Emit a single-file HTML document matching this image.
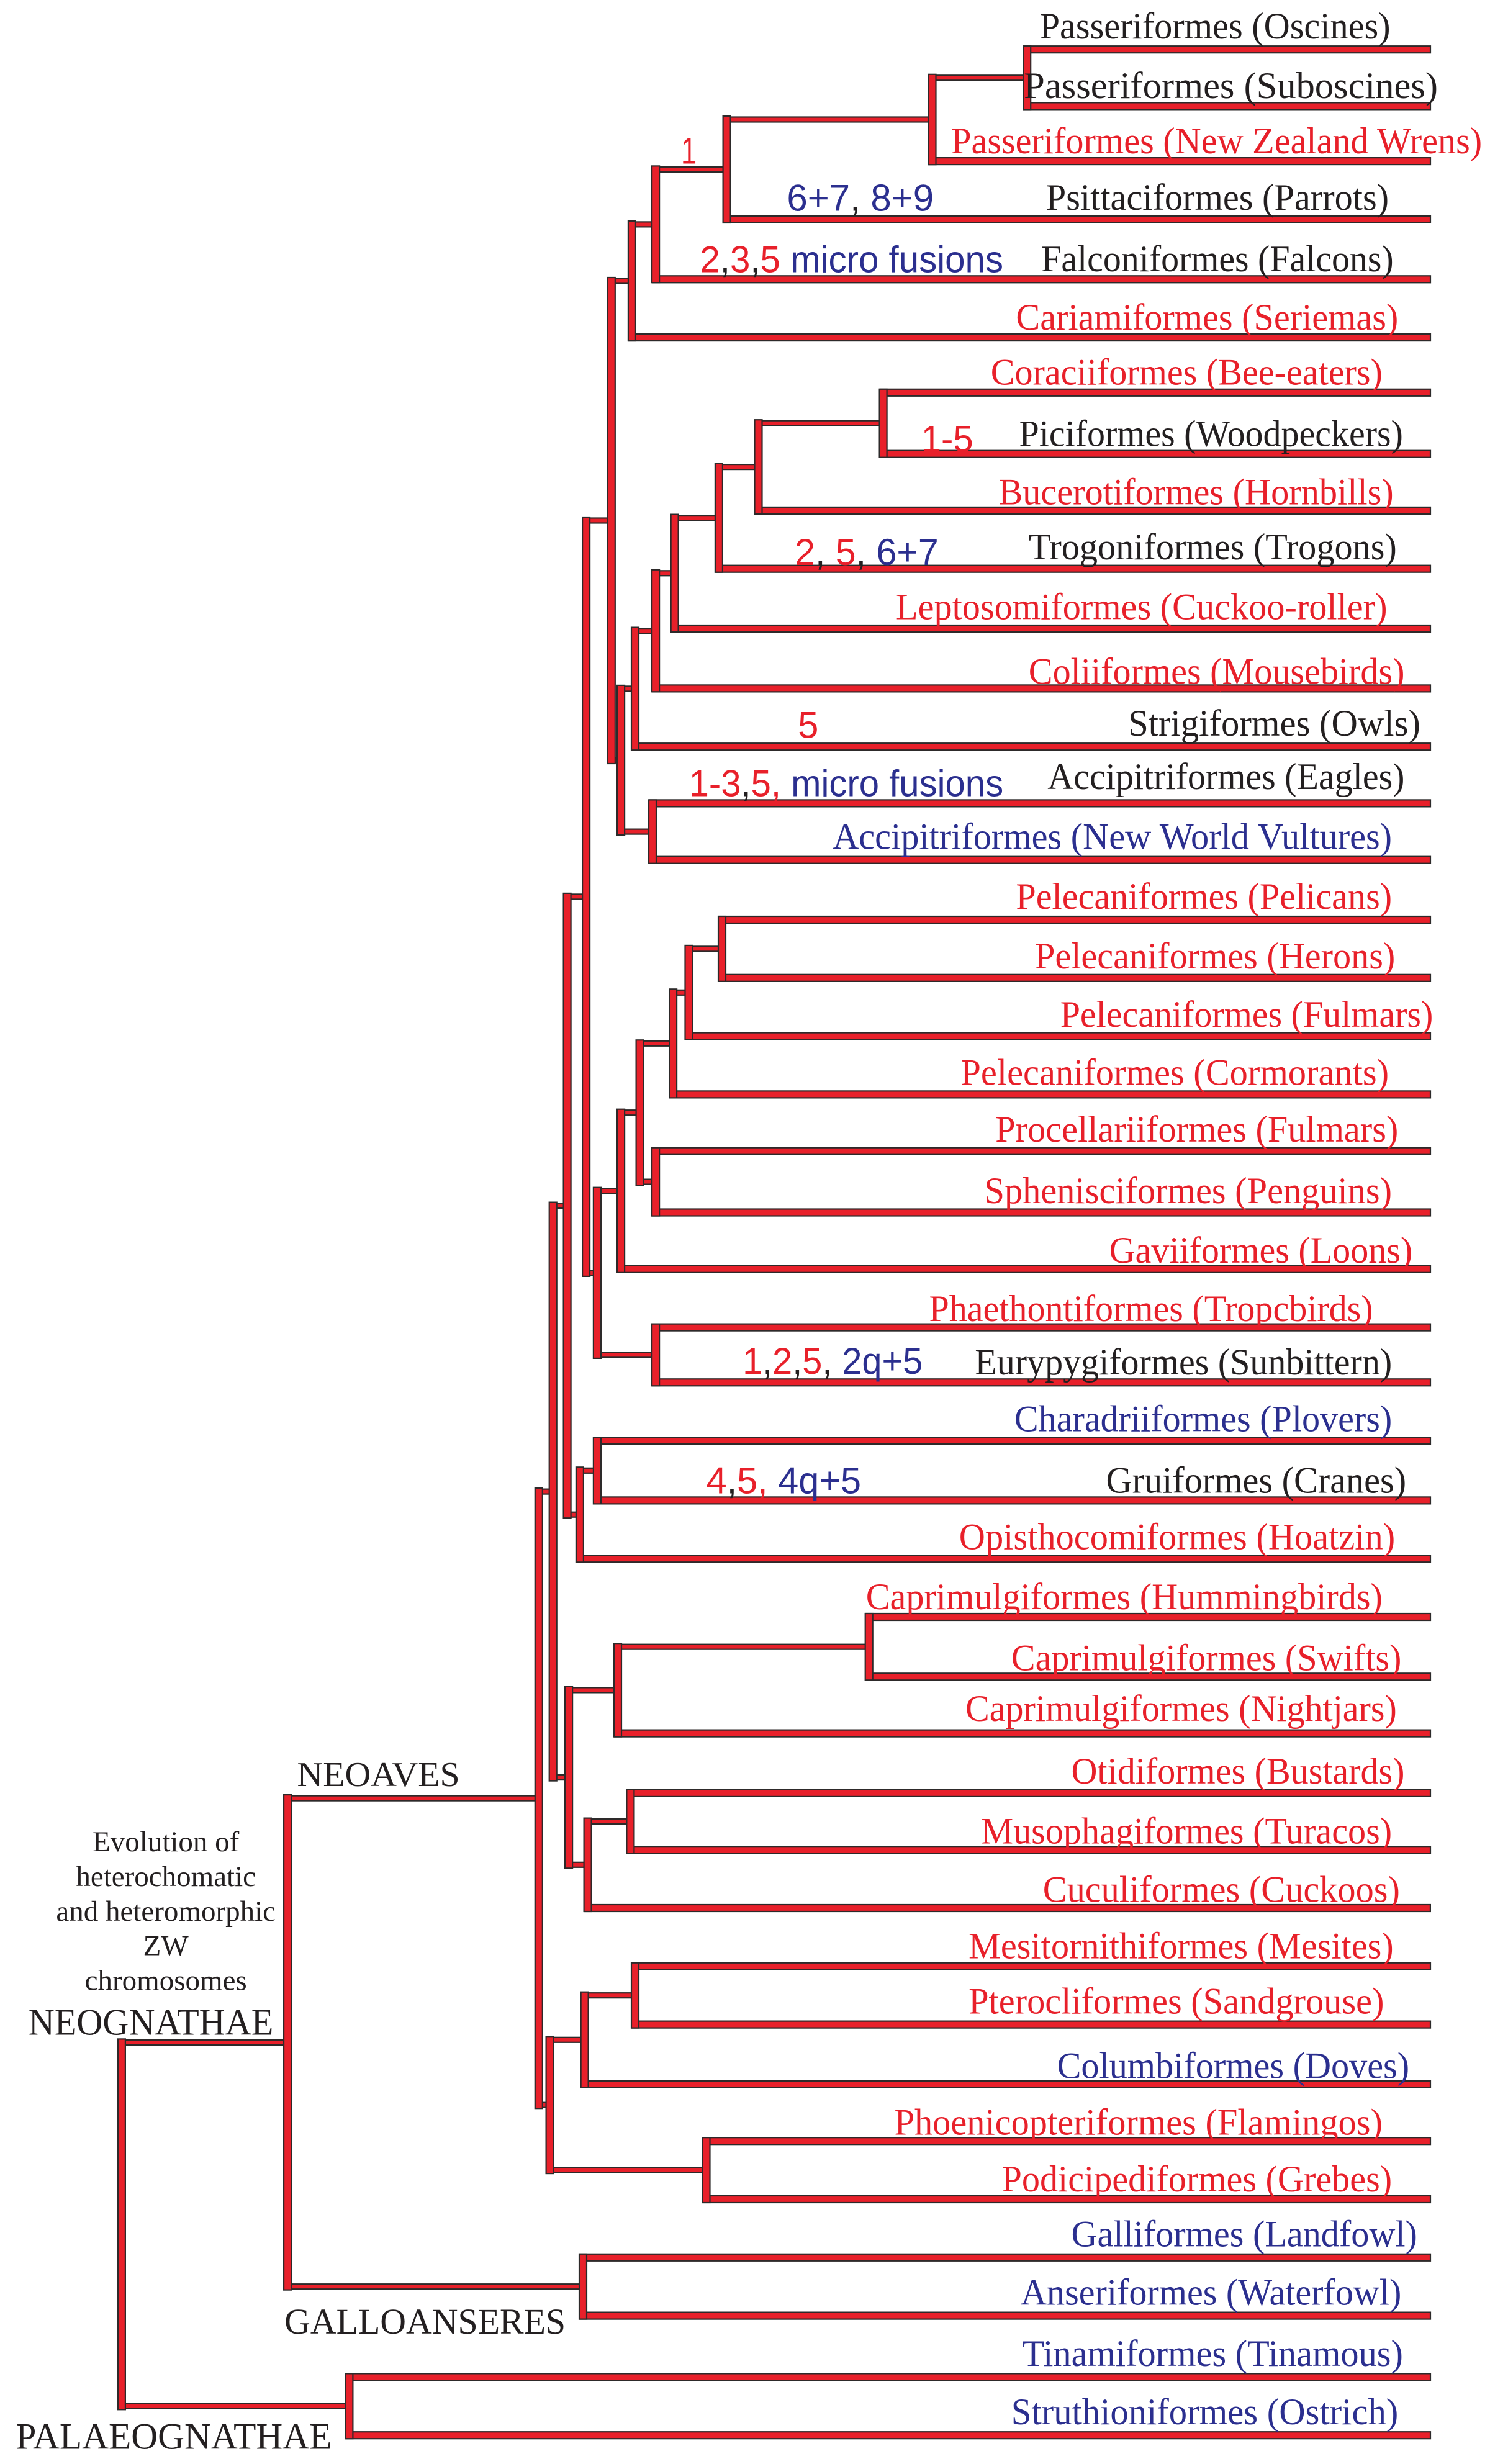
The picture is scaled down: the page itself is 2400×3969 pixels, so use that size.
<!DOCTYPE html>
<html><head><meta charset="utf-8"><style>
html,body{margin:0;padding:0;background:#fff}
svg{display:block}
</style></head><body>
<svg id="chart" xmlns="http://www.w3.org/2000/svg" width="2400" height="3969" viewBox="0 0 2400 3969">
<rect width="2400" height="3969" fill="#ffffff"/>
<g id="branches"></g>
<g id="labels"></g>
<g id="notes"></g>
</svg>
<script>
const S = 2.545;
const SY = 2.535, OY = -4;
const RED = "#e8202a", BLUE = "#2b2f8f", BLACK = "#231f20";
const leafNames = ["Passeriformes (Oscines)","Passeriformes (Suboscines)","Passeriformes (New Zealand Wrens)","Psittaciformes (Parrots)","Falconiformes (Falcons)","Cariamiformes (Seriemas)","Coraciiformes (Bee-eaters)","Piciformes (Woodpeckers)","Bucerotiformes (Hornbills)","Trogoniformes (Trogons)","Leptosomiformes (Cuckoo-roller)","Coliiformes (Mousebirds)","Strigiformes (Owls)","Accipitriformes (Eagles)","Accipitriformes (New World Vultures)","Pelecaniformes (Pelicans)","Pelecaniformes (Herons)","Pelecaniformes (Fulmars)","Pelecaniformes (Cormorants)","Procellariiformes (Fulmars)","Sphenisciformes (Penguins)","Gaviiformes (Loons)","Phaethontiformes (Tropcbirds)","Eurypygiformes (Sunbittern)","Charadriiformes (Plovers)","Gruiformes (Cranes)","Opisthocomiformes (Hoatzin)","Caprimulgiformes (Hummingbirds)","Caprimulgiformes (Swifts)","Caprimulgiformes (Nightjars)","Otidiformes (Bustards)","Musophagiformes (Turacos)","Cuculiformes (Cuckoos)","Mesitornithiformes (Mesites)","Pterocliformes (Sandgrouse)","Columbiformes (Doves)","Phoenicopteriformes (Flamingos)","Podicipediformes (Grebes)","Galliformes (Landfowl)","Anseriformes (Waterfowl)","Tinamiformes (Tinamous)","Struthioniformes (Ostrich)"];
const leafColor = ["k","k","r","k","k","r","r","k","r","k","r","r","k","k","b","r","r","r","r","r","r","r","r","k","b","k","r","r","r","r","r","r","r","r","r","b","r","r","b","b","b","b"];
const leafY = [33,69,104,141,179,216,251,290,326,363,401,439,476,512,548,586,623,660,697,733,772,808,845,880,917,955,992,1029,1067,1103,1141,1177,1214,1251,1288,1326,1362,1399,1436,1473,1512,1549];
const labelStart = [658,648,602,662,659,643,627,645,632,651,567,651,714,663,527,643,655,671,608,630,623,702,588,617,642,700,607,548,640,611,678,621,660,613,613,669,566,634,678,646,647,640];
const labelEnd = [880,910,938,879,882,885,875,888,882,884,878,889,899,889,881,881,883,907,879,885,881,894,869,881,881,890,883,875,887,884,889,881,886,882,876,892,875,881,897,887,888,885];
const labelY = [18,56,91,127,166,203,238,277,314,349,387,428,461,495,533,571,609,646,683,719,758,796,833,867,903,942,978,1016,1055,1087,1127,1165,1202,1238,1273,1314,1350,1386,1421,1458,1497,1534];
const tree = [75,
  [180,
    [339,
      [348,
        [357,
          [369,
            [385,
              [398,[413,[458,[588,[648,0,1],2],3],4],5],
              [391,[400,[413,[425,[453,[478,[557,6,7],8],9],10],11],12],[411,13,14]]],
            [376,[391,[403,[424,[434,[455,15,16],17],18],[413,19,20]],21],[413,22,23]]],
          [365,[376,24,25],26]],
        [358,[389,[548,27,28],29],[370,[397,30,31],32]]],
      [346,[368,[400,33,34],35],[445,36,37]]],
    [367,38,39]],
  [219,40,41]];
const LEAF_END = 2304;
const NS = "http://www.w3.org/2000/svg";
const gB = document.getElementById("branches");
const gL = document.getElementById("labels");
const gN = document.getElementById("notes");
const verts = [];
function ty(v){ return v * SY + OY; }
function rect(x, y, w, h, name, parent) {
  const r = document.createElementNS(NS, "rect");
  r.setAttribute("x", x.toFixed(1)); r.setAttribute("y", y.toFixed(1));
  r.setAttribute("width", Math.max(w,1).toFixed(1)); r.setAttribute("height", h.toFixed(1));
  r.setAttribute("fill", RED); r.setAttribute("stroke", "#2d2a2a"); r.setAttribute("stroke-width", "2.2");
  
  
  parent.appendChild(r);
}
function layout(node) {
  if (typeof node === "number") {
    return ty(leafY[node]);
  }
  const x = node[0] * S;
  const ys = [];
  for (let i = 1; i < node.length; i++) {
    const c = node[i];
    const cy = layout(c);
    ys.push(cy);
    if (typeof c === "number") {
      rect(x, cy - 5.5, LEAF_END - x, 11, "leaf-branch", gB);
    } else {
      rect(x, cy - 4, c[0] * S - x + 6, 8, "internal-branch", gB);
    }
  }
  const y0 = Math.min(...ys), y1 = Math.max(...ys);
  verts.push([x, y0, y1]);
  return (y0 + y1) / 2;
}
layout(tree);
verts.forEach(v => rect(v[0] - 1, v[1] - 5.5, 12, v[2] - v[1] + 11, "node-connector", gB));
function colorOf(c){ return c === "r" ? RED : c === "b" ? BLUE : BLACK; }
for (let i = 0; i < leafNames.length; i++) {
  const t = document.createElementNS(NS, "text");
  t.setAttribute("x", (labelStart[i] * S).toFixed(1));
  t.setAttribute("y", ty(labelY[i] + 8).toFixed(1));
  t.setAttribute("font-family", "Liberation Serif, serif");
  t.setAttribute("font-size", "60");
  t.setAttribute("fill", colorOf(leafColor[i]));
  t.setAttribute("textLength", ((labelEnd[i] - labelStart[i]) * S).toFixed(1));
  t.setAttribute("lengthAdjust", "spacingAndGlyphs");
  t.textContent = leafNames[i];
  
  
  gL.appendChild(t);
}
const notes = [
  [431,441,97,[["1","r"]]],
  [498,591,127,[["6+7","b"],[", ","k"],["8+9","b"]]],
  [443,635,166,[["2","r"],[",","k"],["3","r"],[",","k"],["5","r"],[" micro fusions","b"]]],
  [583,616,280,[["1-5","r"]]],
  [503,594,352,[["2","r"],[", ","k"],["5","r"],[", ","k"],["6+7","b"]]],
  [505,518,462,[["5","r"]]],
  [436,635,499,[["1-3","r"],[",","k"],["5","r"],[", ","r"],["micro fusions","b"]]],
  [470,584,866,[["1","r"],[",","k"],["2","r"],[",","k"],["5","r"],[", ","k"],["2q+5","b"]]],
  [447,545,942,[["4","r"],[",","k"],["5","r"],[", ","r"],["4q+5","b"]]]
];
notes.forEach(n => {
  const t = document.createElementNS(NS, "text");
  t.setAttribute("x", (n[0] * S).toFixed(1));
  t.setAttribute("y", ty(n[2] + 8.5).toFixed(1));
  t.setAttribute("font-family", "Liberation Sans, sans-serif");
  t.setAttribute("font-size", "60");
  t.setAttribute("textLength", ((n[1] - n[0]) * S).toFixed(1));
  t.setAttribute("lengthAdjust", "spacingAndGlyphs");
  n[3].forEach(s => {
    const sp = document.createElementNS(NS, "tspan");
    sp.setAttribute("fill", colorOf(s[1]));
    sp.textContent = s[0];
    t.appendChild(sp);
  });
  
  
  gN.appendChild(t);
});
const clades = [
  ["NEOAVES",188,291,1128,56],
  ["NEOGNATHAE",18,173,1286,60],
  ["GALLOANSERES",180,358,1476,58],
  ["PALAEOGNATHAE",10,210,1549,60]
];
clades.forEach(c => {
  const t = document.createElementNS(NS, "text");
  t.setAttribute("x", (c[1] * S).toFixed(1));
  t.setAttribute("y", ty(c[3] + 8.5).toFixed(1));
  t.setAttribute("font-family", "Liberation Serif, serif");
  t.setAttribute("font-size", c[4]);
  t.setAttribute("fill", BLACK);
  t.setAttribute("textLength", ((c[2] - c[1]) * S).toFixed(1));
  t.setAttribute("lengthAdjust", "spacingAndGlyphs");
  t.textContent = c[0];
  
  
  gN.appendChild(t);
});
const evo = [["Evolution of",1171],["heterochomatic",1193],["and heteromorphic",1215],["ZW",1237],["chromosomes",1259]];
evo.forEach(e => {
  const t = document.createElementNS(NS, "text");
  t.setAttribute("x", (105 * S).toFixed(1));
  t.setAttribute("y", ty(e[1] + 7).toFixed(1));
  t.setAttribute("font-family", "Liberation Serif, serif");
  t.setAttribute("font-size", "47");
  t.setAttribute("fill", BLACK);
  t.setAttribute("text-anchor", "middle");
  t.textContent = e[0];
  
  
  gN.appendChild(t);
});
</script>
</body></html>
